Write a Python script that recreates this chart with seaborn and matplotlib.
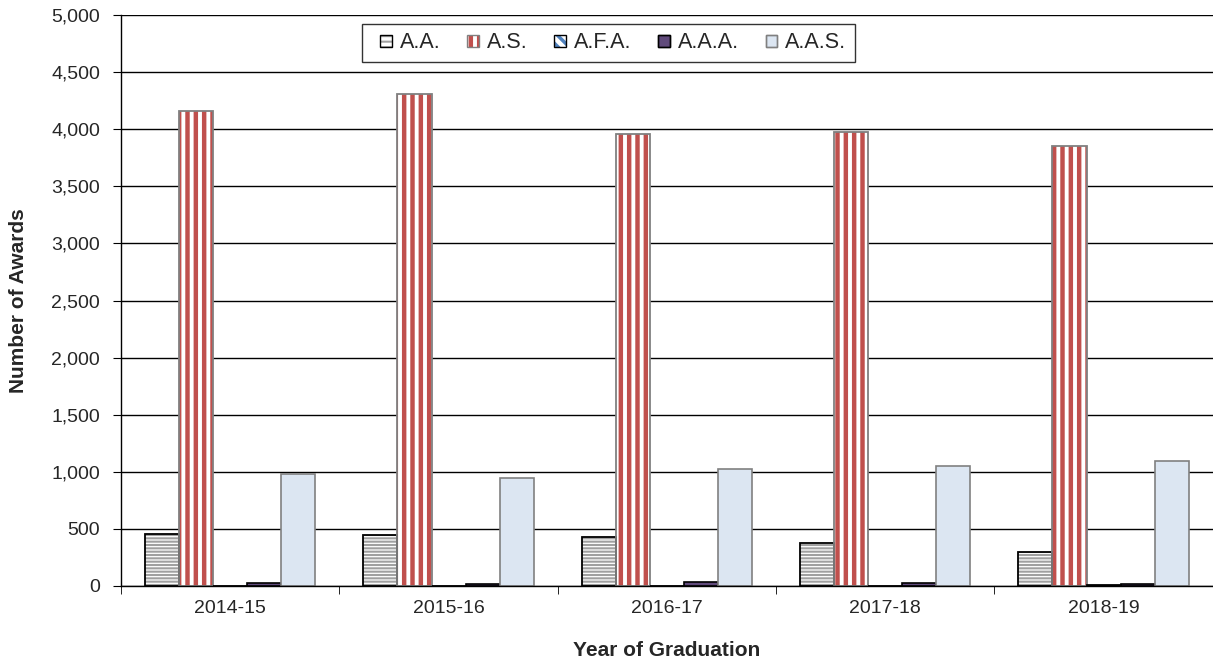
import matplotlib
matplotlib.use('Agg')
import matplotlib.pyplot as plt
from matplotlib.patches import Rectangle
from matplotlib.ticker import FuncFormatter, MultipleLocator
import seaborn as sns
import pandas as pd

years = ['2014-15', '2015-16', '2016-17', '2017-18', '2018-19']
degrees = ['A.A.', 'A.S.', 'A.F.A.', 'A.A.A.', 'A.A.S.']
aa = [453, 450, 426, 374, 300]
as_ = [4159, 4310, 3955, 3975, 3850]
afa = [0, 0, 0, 0, 12]
aaa = [24, 15, 32, 24, 15]
aas = [979, 944, 1026, 1047, 1094]

df = pd.DataFrame({
    'year': years * 5,
    'degree': [d for d in degrees for _ in years],
    'awards': aa + as_ + afa + aaa + aas,
})

# face, hatch, hatch colour, edge colour
styles = {
    'A.A.': ('white', '-----', '#A0A0A0', 'black'),
    'A.S.': ('white', '||', '#C0504D', '#808080'),
    'A.F.A.': ('white', '\\\\\\', '#4F81BD', 'black'),
    'A.A.A.': ('#604A7B', None, None, 'black'),
    'A.A.S.': ('#DCE6F2', None, None, '#808080'),
}
# thicker hatch lines where the stripes are wide
hatch_lw = {'A.S.': 3.2, 'A.F.A.': 2.5}

sns.set_style('white')
plt.rcParams['font.family'] = ['Liberation Sans', 'DejaVu Sans']
plt.rcParams['hatch.linewidth'] = 1.5

fig = plt.figure(figsize=(12.13, 6.65), dpi=100)
ax = fig.add_axes([0.0998, 0.1188, 0.9, 0.8586])

sns.barplot(data=df, x='year', y='awards', hue='degree', order=years, hue_order=degrees,
            width=0.78, gap=0, ax=ax, legend=False)


def style_patch(p, deg):
    face, hatch, hcol, edge = styles[deg]
    p.set_facecolor(face)
    if hatch:
        p.set_hatch(hatch)
        p.set_edgecolor(hcol)
        p.set_linewidth(0)
        if deg in hatch_lw and hasattr(p, 'set_hatch_linewidth'):
            p.set_hatch_linewidth(hatch_lw[deg])
        x, y = p.get_xy()
        ax.add_patch(Rectangle((x, y), p.get_width(), p.get_height(), fill=False,
                               edgecolor=edge, linewidth=1.3, zorder=p.get_zorder() + 0.1))
    else:
        p.set_edgecolor(edge)
        p.set_linewidth(1.2)


for i, cont in enumerate(ax.containers):
    for p in cont.patches:
        style_patch(p, degrees[i])

ax.set_ylim(0, 5000)
ax.yaxis.set_major_locator(MultipleLocator(500))
ax.yaxis.set_major_formatter(FuncFormatter(lambda v, _: f'{int(v):,}'))
ax.set_axisbelow(True)
ax.grid(axis='y', color='black', linewidth=1)
ax.set_xlim(-0.5, 4.5)
ax.set_xticks(range(5))
ax.set_xticklabels(years)
ax.set_xticks([i + 0.5 for i in range(-1, 5)], minor=True)
ax.tick_params(axis='x', which='major', length=0, labelsize=14, pad=10)
ax.tick_params(axis='x', which='minor', length=6, direction='out', color='black', bottom=True)
ax.tick_params(axis='y', length=6, direction='out', color='black', labelsize=14, left=True, pad=9)
for s in ['top', 'right']:
    ax.spines[s].set_visible(False)
for s in ['left', 'bottom']:
    ax.spines[s].set_color('black')
    ax.spines[s].set_linewidth(1)

ax.set_xlabel('Year of Graduation', fontsize=15, fontweight='bold')
ax.set_ylabel('Number of Awards', fontsize=15, fontweight='bold')
ax.xaxis.set_label_coords(0.5, -0.096)
ax.yaxis.set_label_coords(-0.085, 0.5)


class SquareHandler:
    # small square at the right of the handle box: hatch fill + outline
    def legend_artist(self, legend, orig_handle, fontsize, handlebox):
        deg = orig_handle.get_label()
        face, hatch, hcol, edge = styles[deg]
        side = 8.5
        x0 = handlebox.width - side - handlebox.xdescent
        y0 = (handlebox.height - side) / 2 - handlebox.ydescent
        tr = handlebox.get_transform()
        fill = Rectangle((x0, y0), side, side, facecolor=face, transform=tr)
        if hatch:
            fill.set_hatch(hatch.replace('-----', '---'))
            fill.set_edgecolor(hcol)
            fill.set_linewidth(0)
            if deg in hatch_lw and hasattr(fill, 'set_hatch_linewidth'):
                fill.set_hatch_linewidth(hatch_lw[deg])
        else:
            fill.set_edgecolor(edge)
            fill.set_linewidth(1)
        handlebox.add_artist(fill)
        outline = Rectangle((x0, y0), side, side, fill=False, edgecolor=edge,
                            linewidth=1, transform=tr)
        handlebox.add_artist(outline)
        return outline


handles = [Rectangle((0, 0), 1, 1, label=deg) for deg in degrees]
leg = ax.legend(handles, degrees, ncol=5, loc='lower left', bbox_to_anchor=(0.2207, 0.9177),
                fontsize=15.5, frameon=True, fancybox=False, edgecolor='black',
                handler_map={Rectangle: SquareHandler()},
                handlelength=1.0, handleheight=0.7, handletextpad=0.35, columnspacing=0.8,
                borderpad=0.4, borderaxespad=0)
leg.get_frame().set_linewidth(1)

fig.savefig('out.png', dpi=100)
